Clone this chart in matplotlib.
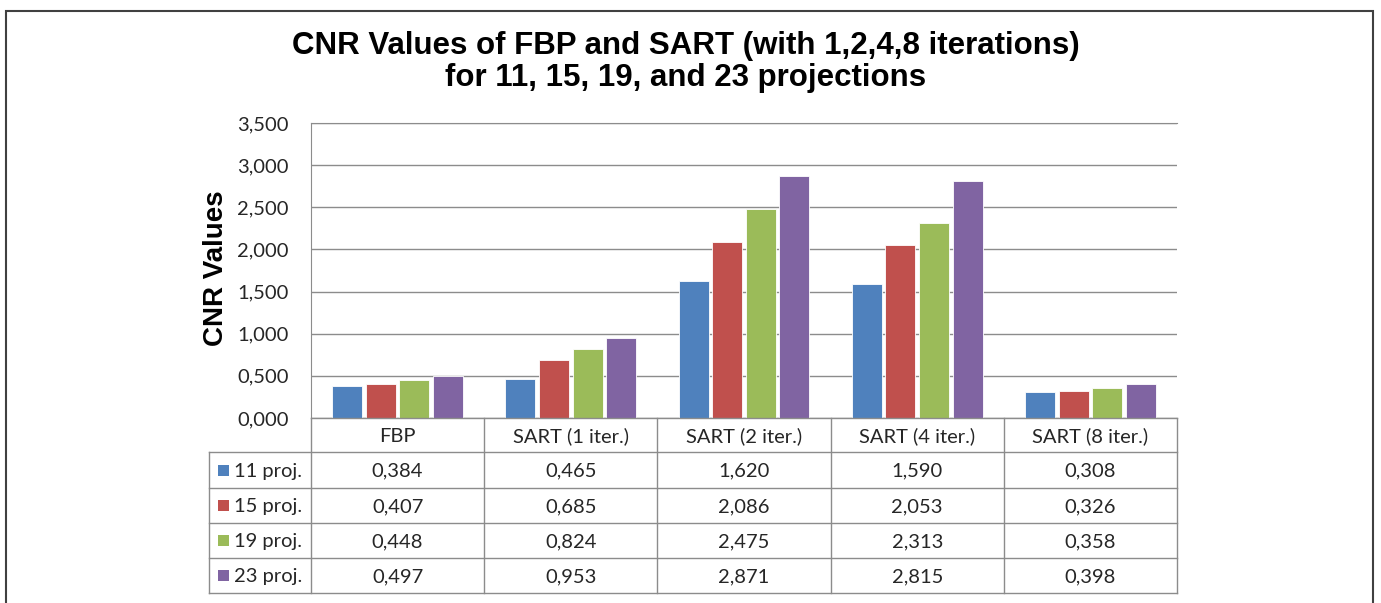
import numpy as np
import matplotlib
matplotlib.use("Agg")
import matplotlib.pyplot as plt
from matplotlib.lines import Line2D
from matplotlib.patches import Rectangle

# data
methods = ["FBP", "SART (1 iter.)", "SART (2 iter.)", "SART (4 iter.)", "SART (8 iter.)"]
series = ["11 proj.", "15 proj.", "19 proj.", "23 proj."]
proj11 = [0.384, 0.465, 1.620, 1.590, 0.308]
proj15 = [0.407, 0.685, 2.086, 2.053, 0.326]
proj19 = [0.448, 0.824, 2.475, 2.313, 0.358]
proj23 = [0.497, 0.953, 2.871, 2.815, 0.398]
colors = ["#4F81BD", "#C0504D", "#9BBB59", "#8064A2"]
yticks = [0.0, 0.5, 1.0, 1.5, 2.0, 2.5, 3.0, 3.5]

W, H = 1381, 603
fig = plt.figure(figsize=(W / 100, H / 100), dpi=100)

def fx(x):
    return x / W

def fy(y):
    return 1 - y / H

ax_l, ax_r, ax_t, ax_b = 311, 1177, 123, 418
ax = fig.add_axes([fx(ax_l), fy(ax_b), fx(ax_r - ax_l), (ax_b - ax_t) / H])

body = "Lato"
fs = 14.5
txt_c = "#262626"
grid_c = "#8C8C8C"

x = np.arange(len(methods))
pitch = 0.194
width = 0.173
for i, vals in enumerate([proj11, proj15, proj19, proj23]):
    ax.bar(x + (i - 1.5) * pitch, vals, width, color=colors[i],
           edgecolor="white", linewidth=0.6, zorder=3)

ax.set_xlim(-0.5, len(methods) - 0.5)
ax.set_ylim(0, 3.5)
ax.set_yticks(yticks)
ax.set_yticklabels([f"{v:.3f}".replace(".", ",") for v in yticks],
                   fontfamily=body, fontsize=fs, color=txt_c)
ax.tick_params(axis="y", length=0, pad=16)
ax.set_xticks([])
ax.grid(axis="y", color=grid_c, linewidth=1, zorder=0)
for s in ["right", "bottom"]:
    ax.spines[s].set_visible(False)
ax.spines["top"].set_color(grid_c)
ax.spines["left"].set_color(grid_c)

fig.text(fx(216), fy(268), "CNR Values", rotation=90, ha="center", va="center",
         fontfamily="Liberation Sans", fontweight="bold", fontsize=20)
fig.text(fx(686), fy(62), "CNR Values of FBP and SART (with 1,2,4,8 iterations)\n"
         "for 11, 15, 19, and 23 projections", ha="center", va="center",
         fontfamily="Liberation Sans", fontweight="bold", fontsize=22.5,
         linespacing=1.13)

# data table under the axes
row_y = [418, 452, 488, 523, 558, 593]
lab_l = 209
col_w = (ax_r - ax_l) / len(methods)
col_x = [ax_l + k * col_w for k in range(len(methods) + 1)]

def hline(y, x0, x1):
    fig.add_artist(Line2D([fx(x0), fx(x1)], [fy(y), fy(y)], color=grid_c, lw=1))

def vline(xp, y0, y1):
    fig.add_artist(Line2D([fx(xp), fx(xp)], [fy(y0), fy(y1)], color=grid_c, lw=1))

hline(row_y[0], ax_l, ax_r)
for y in row_y[1:]:
    hline(y, lab_l, ax_r)
vline(lab_l, row_y[1], row_y[-1])
for xp in col_x:
    vline(xp, row_y[0], row_y[-1])

for k, m in enumerate(methods):
    fig.text(fx(col_x[k] + col_w / 2), fy((row_y[0] + row_y[1]) / 2 + 1), m,
             ha="center", va="center", fontfamily=body, fontsize=fs, color=txt_c)

for i, vals in enumerate([proj11, proj15, proj19, proj23]):
    yc = (row_y[i + 1] + row_y[i + 2]) / 2
    fig.add_artist(Rectangle((fx(218), fy(yc + 5.5)), fx(11), 11 / H,
                             facecolor=colors[i], edgecolor="none"))
    fig.text(fx(234), fy(yc + 1), series[i], ha="left", va="center",
             fontfamily=body, fontsize=fs, color=txt_c)
    for k, v in enumerate(vals):
        fig.text(fx(col_x[k] + col_w / 2), fy(yc + 1), f"{v:.3f}".replace(".", ","),
                 ha="center", va="center", fontfamily=body, fontsize=fs, color=txt_c)

# outer chart border
fig.add_artist(Rectangle((fx(6), fy(620)), fx(1373 - 6), (620 - 11) / H,
                         facecolor="none", edgecolor="#404040", lw=1.5))

fig.savefig("out.png", dpi=100)
